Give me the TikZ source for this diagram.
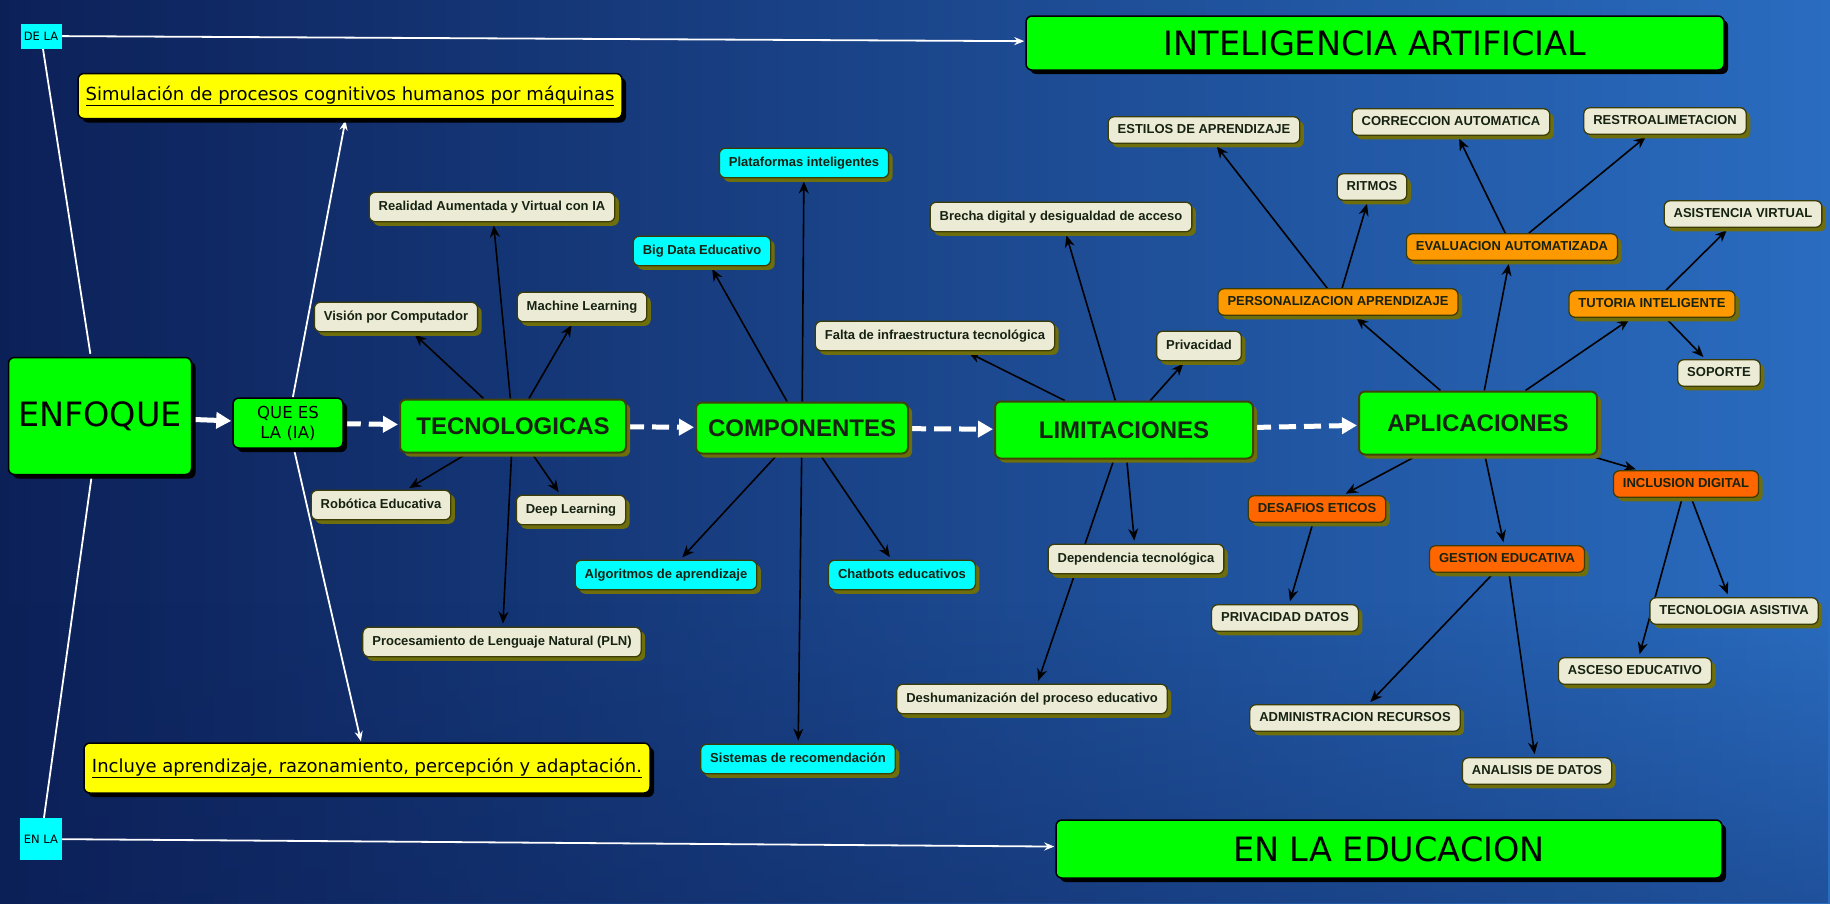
\documentclass[tikz,border=0pt]{standalone}
\usepackage{fontspec}
\setmainfont{Liberation Sans}
\newfontfamily\titulo{DejaVu Sans}
\usepackage{tikz}
\usetikzlibrary{arrows.meta,shadows,backgrounds,fadings,positioning}

\definecolor{verde}{RGB}{0,255,0}
\definecolor{cian}{RGB}{0,255,255}
\definecolor{amarillo}{RGB}{255,255,0}
\definecolor{crema}{RGB}{236,236,214}
\definecolor{oliva}{RGB}{110,110,12}
\definecolor{naranja}{RGB}{255,153,0}
\definecolor{rojizo}{RGB}{255,102,0}
\definecolor{tinta}{RGB}{22,34,18}
\definecolor{fondoA}{RGB}{12,32,88}
\definecolor{fondoB}{RGB}{30,86,166}
\definecolor{fondoC}{RGB}{42,108,192}

\begin{document}
\begin{tikzpicture}[x=1pt,y=-1pt,>={Stealth[length=12pt,width=10pt]}]
          %% MAPA IA

          \tikzstyle{every edge}=[draw=black,line width=1.6pt,->,shorten >=3pt]
          \tikzstyle{blanca}=[draw=white,line width=1.8pt,-{Stealth[length=10pt,width=8pt]},shorten >=1pt]
          \tikzstyle{sinflecha}=[draw=white,line width=1.8pt,-]
          \tikzstyle{gruesa}=[draw=white,line width=5pt,-{Triangle[length=15pt,width=16pt]},shorten >=1pt]
          \tikzstyle{rayas}=[gruesa,dash pattern=on 17pt off 8pt]

          \tikzstyle{hoja}=[draw=oliva!55!black,line width=1.3pt,fill=crema,rounded corners=6pt,text=tinta,
             font=\bfseries\fontsize{13}{15}\selectfont,inner xsep=9.5pt,text height=9.5pt,text depth=3pt,inner ysep=8.5pt,
             drop shadow={shadow xshift=4pt,shadow yshift=-4pt,fill=oliva,opacity=1}]
          \tikzstyle{celeste}=[hoja,fill=cian]
          \tikzstyle{mayus}=[hoja,inner ysep=7pt]
          \tikzstyle{naranjo}=[mayus,fill=naranja]
          \tikzstyle{rojo}=[mayus,fill=rojizo]
          \tikzstyle{principal}=[draw=oliva!60!black,line width=2pt,fill=verde,rounded corners=6pt,text=tinta,
             font=\bfseries\fontsize{24}{28}\selectfont,
             drop shadow={shadow xshift=4pt,shadow yshift=-4pt,fill=oliva,opacity=1}]
          \tikzstyle{titulo}=[draw=black,line width=1.5pt,fill=verde,rounded corners=6pt,text=black,
             font=\titulo\fontsize{33.5}{38}\selectfont,
             drop shadow={shadow xshift=4pt,shadow yshift=-4pt,fill=black,opacity=1}]
          \tikzstyle{nota}=[titulo,fill=amarillo,font=\titulo\fontsize{18}{22}\selectfont]
          \tikzstyle{enlace}=[fill=cian,text=black,inner sep=0pt,font=\titulo\fontsize{11.5}{13}\selectfont]

          % fondo
          \useasboundingbox (0,0) rectangle (1830,903);

          % titulos
          \node[titulo,minimum width=698pt,minimum height=54pt] (ia) at (1375,43) {INTELIGENCIA ARTIFICIAL};
          \node[titulo,minimum width=666pt,minimum height=58pt] (edu) at (1389,849) {EN LA EDUCACION};
          \node[titulo,minimum width=183pt,minimum height=117pt] (enf) at (100,416) {ENFOQUE};
          \node[titulo,font=\titulo\fontsize{16.5}{20}\selectfont,align=center,
                minimum width=110pt,minimum height=50pt] (que) at (288,423) {QUE ES\\LA (IA)};
          \node[enlace,minimum width=41pt,minimum height=25pt] (dela) at (41,36) {DE LA};
          \node[enlace,minimum width=42pt,minimum height=42pt] (enla) at (41,839) {EN LA};
          \node[nota,minimum width=544pt,minimum height=45pt] (sim) at (350,96)
                {\underline{Simulación de procesos cognitivos humanos por máquinas}};
          \node[nota,minimum width=566pt,minimum height=50pt] (inc) at (367,768)
                {\underline{Incluye aprendizaje, razonamiento, percepción y adaptación.}};

          % cadena principal
          \node[principal,minimum width=226pt,minimum height=53pt] (tec) at (513,426) {TECNOLOGICAS};
          \node[principal,minimum width=212pt,minimum height=51pt] (com) at (802,428) {COMPONENTES};
          \node[principal,minimum width=258pt,minimum height=57pt] (lim) at (1124,430) {LIMITACIONES};
          \node[principal,minimum width=238pt,minimum height=63pt] (apl) at (1478,423) {APLICACIONES};

          % tecnologicas
          \node[hoja] (rea) at (492,207) {Realidad Aumentada y Virtual con IA};
          \node[hoja] (vis) at (396,317) {Visión por Computador};
          \node[hoja] (mac) at (582,307) {Machine Learning};
          \node[hoja] (rob) at (381,505) {Robótica Educativa};
          \node[hoja] (dee) at (571,510) {Deep Learning};
          \node[hoja] (pln) at (502,642) {Procesamiento de Lenguaje Natural (PLN)};

          % componentes
          \node[celeste] (pla) at (804,163) {Plataformas inteligentes};
          \node[celeste] (big) at (702,251) {Big Data Educativo};
          \node[celeste] (alg) at (666,575) {Algoritmos de aprendizaje};
          \node[celeste] (cha) at (902,575) {Chatbots educativos};
          \node[celeste] (sis) at (798,759) {Sistemas de recomendación};

          % limitaciones
          \node[hoja] (bre) at (1061,217) {Brecha digital y desigualdad de acceso};
          \node[hoja] (fal) at (935,336) {Falta de infraestructura tecnológica};
          \node[hoja] (pri) at (1199,346) {Privacidad};
          \node[hoja] (dep) at (1136,559) {Dependencia tecnológica};
          \node[hoja] (des) at (1032,699) {Deshumanización del proceso educativo};

          % aplicaciones
          \node[naranjo] (per) at (1338,302) {PERSONALIZACION APRENDIZAJE};
          \node[naranjo] (eva) at (1512,247) {EVALUACION AUTOMATIZADA};
          \node[naranjo] (tut) at (1652,304) {TUTORIA INTELIGENTE};
          \node[rojo] (incl) at (1686,484) {INCLUSION DIGITAL};
          \node[rojo] (det) at (1317,509) {DESAFIOS ETICOS};
          \node[rojo] (ges) at (1507,559) {GESTION EDUCATIVA};

          % tercer nivel
          \node[mayus] (est) at (1204,130) {ESTILOS DE APRENDIZAJE};
          \node[mayus] (rit) at (1372,187) {RITMOS};
          \node[mayus] (cor) at (1451,122) {CORRECCION AUTOMATICA};
          \node[mayus] (ret) at (1665,121) {RESTROALIMETACION};
          \node[mayus] (asi) at (1743,214) {ASISTENCIA VIRTUAL};
          \node[mayus] (sop) at (1719,373) {SOPORTE};
          \node[mayus] (prd) at (1285,618) {PRIVACIDAD DATOS};
          \node[mayus] (adm) at (1355,718) {ADMINISTRACION RECURSOS};
          \node[mayus] (ana) at (1537,771) {ANALISIS DE DATOS};
          \node[mayus] (tas) at (1734,611) {TECNOLOGIA ASISTIVA};
          \node[mayus] (asc) at (1635,671) {ASCESO EDUCATIVO};

          \begin{scope}[on background layer]
          \shade[left color=fondoA,middle color=fondoB,right color=fondoC] (0,0) rectangle (1830,903);
          \fill[fondoA,opacity=0.35,path fading=north] (0,600) rectangle (1830,903);

          % enlaces blancos
          \path (dela) edge[blanca] (ia)
                (dela) edge[sinflecha] (enf)
                (enla) edge[sinflecha] (enf)
                (enla) edge[blanca] (edu)
                (que) edge[blanca] (sim)
                (que) edge[blanca] (inc);
          \path (enf) edge[gruesa] (que)
                (que) edge[rayas] (tec)
                (tec) edge[rayas] (com)
                (com) edge[rayas] (lim)
                (lim) edge[rayas] (apl);

          % flechas negras
          \path (tec) edge (rea) edge (vis) edge (mac) edge (rob) edge (dee) edge (pln);
          \path (com) edge (pla) edge (big) edge (alg) edge (cha) edge (sis);
          \path (lim) edge (bre) edge (fal) edge (pri) edge (dep) edge (des);
          \path (apl) edge (per) edge (eva) edge (tut) edge (incl) edge (det) edge (ges);
          \path (per) edge (est) edge (rit);
          \path (eva) edge (cor) edge (ret);
          \path (tut) edge (asi) edge (sop);
          \path (incl) edge (tas) edge (asc);
          \path (det) edge (prd);
          \path (ges) edge (adm) edge (ana);
          \end{scope}
\end{tikzpicture}
\end{document}
